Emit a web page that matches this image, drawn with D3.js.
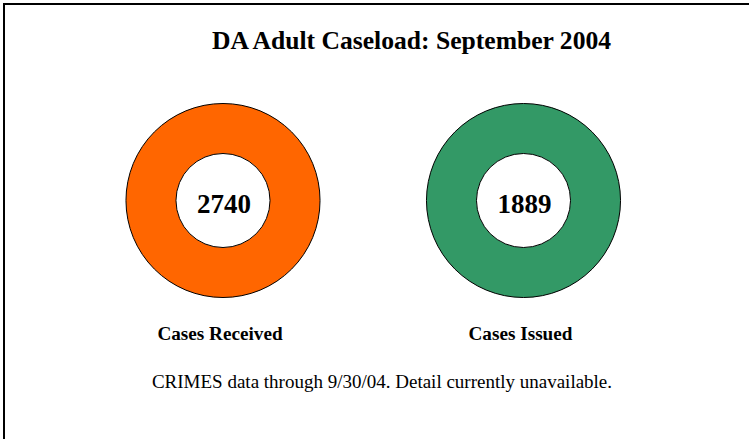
<!DOCTYPE html>
<html>
<head>
<meta charset="utf-8">
<script src="https://cdn.jsdelivr.net/npm/d3@7"></script>
<style>
  body { margin: 0; background: #fff; }
  svg text { font-family: "Liberation Serif", "Times New Roman", serif; }
</style>
</head>
<body>
<script>
var categories = ["Cases Received", "Cases Issued"];
var values = [2740, 1889];
var colors = ["#FF6600", "#339966"];
var title = "DA Adult Caseload: September 2004";
var footnote = "CRIMES data through 9/30/04. Detail currently unavailable.";

var width = 749,
  height = 439;

var svg = d3
  .select("body")
  .append("svg")
  .attr("width", width)
  .attr("height", height);

// frame: only top and left edges show
svg
  .append("path")
  .attr("d", "M4," + height + "V4H" + width)
  .attr("fill", "none")
  .attr("stroke", "#000")
  .attr("stroke-width", 2);

svg
  .append("text")
  .attr("x", 411.5)
  .attr("y", 49)
  .attr("text-anchor", "middle")
  .style("font-size", "25.6px")
  .style("font-weight", "bold")
  .text(title);

var x = d3.scalePoint().domain(categories).range([223, 523.5]);
var color = d3.scaleOrdinal().domain(categories).range(colors);

var arc = d3.arc().innerRadius(47).outerRadius(97);
var pie = d3.pie().sort(null);

var data = categories.map(function(c, i) {
  return { name: c, value: values[i] };
});

var donut = svg
  .selectAll(".donut")
  .data(data)
  .enter()
  .append("g")
  .attr("class", "donut")
  .attr("transform", function(d) {
    return "translate(" + x(d.name) + ",200.5)";
  });

donut
  .selectAll("path")
  .data(function(d) {
    return pie([d.value]).map(function(p) {
      p.name = d.name;
      return p;
    });
  })
  .enter()
  .append("path")
  .attr("d", arc)
  .attr("fill", function(d) {
    return color(d.name);
  })
  .attr("stroke", "#000")
  .attr("stroke-width", 1);

donut
  .append("text")
  .attr("x", 1)
  .attr("y", 3)
  .attr("dy", ".35em")
  .attr("text-anchor", "middle")
  .style("font-size", "27px")
  .style("font-weight", "bold")
  .text(function(d) {
    return d.value;
  });

svg
  .selectAll(".label")
  .data(data)
  .enter()
  .append("text")
  .attr("class", "label")
  .attr("x", function(d) {
    return x(d.name) - 3;
  })
  .attr("y", 340)
  .attr("text-anchor", "middle")
  .style("font-size", "19.2px")
  .style("font-weight", "bold")
  .text(function(d) {
    return d.name;
  });

svg
  .append("text")
  .attr("x", 382)
  .attr("y", 388)
  .attr("text-anchor", "middle")
  .style("font-size", "19px")
  .text(footnote);
</script>
</body>
</html>
